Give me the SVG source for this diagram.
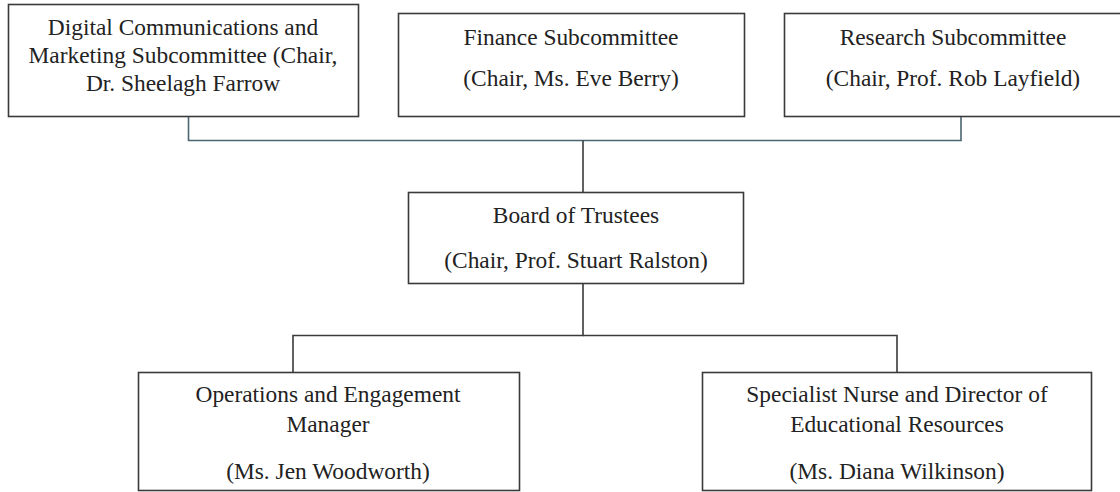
<svg xmlns="http://www.w3.org/2000/svg" width="1120" height="492" viewBox="0 0 1120 492">
<style>
.box{fill:#fff;stroke:#3a3a3a;stroke-width:1.6}
.t{font-family:"Liberation Serif","Times New Roman",serif;font-size:23.4px;fill:#222;text-anchor:middle}
.c{fill:none;stroke:#3a3a3a;stroke-width:1.6}
.ct{fill:none;stroke:#4a6670;stroke-width:1.6}
</style>
<rect width="1120" height="492" fill="#fff"/>
<g id="connectors">
<path class="ct" d="M188.5 117 V140.5 H961 V117"/>
<path class="c" d="M583 140.5 V193"/>
<path class="c" d="M583 284 V335.5 H293 V372"/>
<path class="c" d="M583 335.5 H897 V372"/>
</g>
<g id="digital">
<rect class="box" x="8.5" y="4.5" width="350" height="112"/>
<text class="t" x="183" y="35">Digital Communications and</text>
<text class="t" x="183" y="63">Marketing Subcommittee (Chair,</text>
<text class="t" x="183" y="91">Dr. Sheelagh Farrow</text>
</g>
<g id="finance">
<rect class="box" x="398.5" y="13.5" width="346" height="103"/>
<text class="t" x="571" y="45">Finance Subcommittee</text>
<text class="t" x="571" y="86">(Chair, Ms. Eve Berry)</text>
</g>
<g id="research">
<rect class="box" x="784.5" y="13.5" width="345" height="103"/>
<text class="t" x="953" y="45">Research Subcommittee</text>
<text class="t" x="953" y="86">(Chair, Prof. Rob Layfield)</text>
</g>
<g id="board">
<rect class="box" x="408.5" y="192.5" width="335" height="91"/>
<text class="t" x="576" y="223">Board of Trustees</text>
<text class="t" x="576" y="268">(Chair, Prof. Stuart Ralston)</text>
</g>
<g id="operations">
<rect class="box" x="138.5" y="372.5" width="381" height="118"/>
<text class="t" x="328" y="402">Operations and Engagement</text>
<text class="t" x="328" y="432">Manager</text>
<text class="t" x="328" y="479">(Ms. Jen Woodworth)</text>
</g>
<g id="nurse">
<rect class="box" x="702.5" y="372.5" width="389" height="118"/>
<text class="t" x="897" y="402">Specialist Nurse and Director of</text>
<text class="t" x="897" y="432">Educational Resources</text>
<text class="t" x="897" y="479">(Ms. Diana Wilkinson)</text>
</g>
</svg>
